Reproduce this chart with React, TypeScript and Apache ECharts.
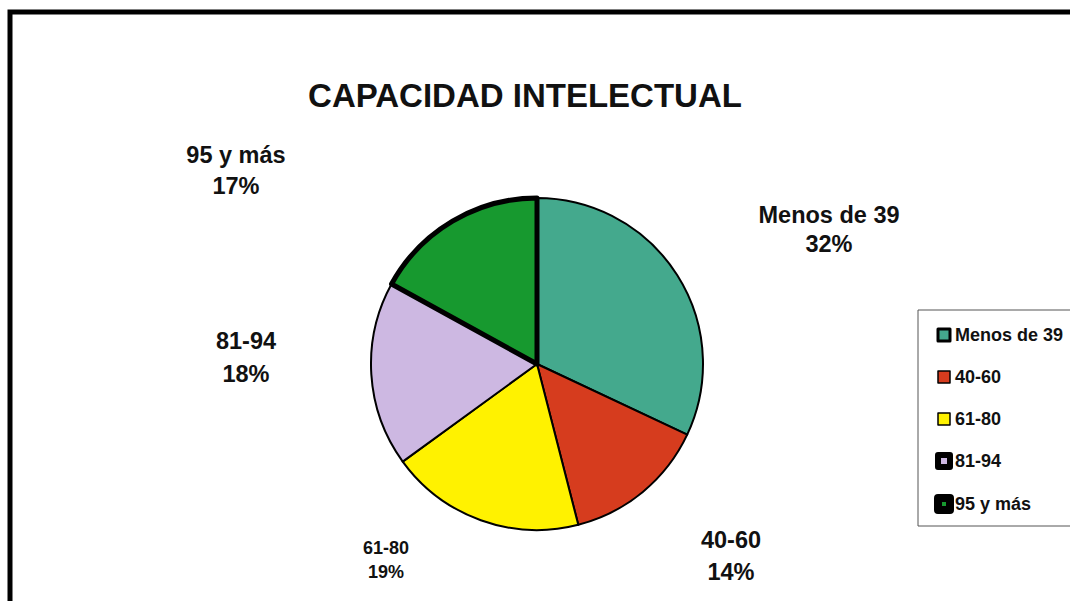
import React, { useEffect, useRef } from "react";
import * as echarts from "echarts";

const categories = ["Menos de 39", "40-60", "61-80", "81-94", "95 y más"];
const values = [32, 14, 19, 18, 17];
const colors = ["#44A98D", "#D63C1E", "#FFF200", "#CDB8E2", "#17992F"];
const borderWidths = [2, 2, 2, 2, 5];
const legendBorders = [3, 1.5, 1.5, 6, 8];
const labelPos = [
  [829, 229],
  [731, 556],
  [386, 560],
  [246, 357],
  [236, 170],
];
const labelSizes = [23.5, 23.5, 18, 23.5, 23.5];
const labelLines = [29, 32, 24, 33, 31];

export default function App() {
  const ref = useRef<HTMLDivElement>(null);
  useEffect(() => {
    const chart = echarts.init(ref.current!, null, { renderer: "svg" });
    const font = "'Liberation Sans', Arial, sans-serif";
    chart.setOption({
      animation: false,
      backgroundColor: "#ffffff",
      title: {
        text: "CAPACIDAD INTELECTUAL",
        left: 520,
        top: 74,
        textAlign: "center",
        textStyle: { fontFamily: font, fontSize: 33, fontWeight: "bold", color: "#111" },
      },
      legend: {
        orient: "vertical",
        left: 918,
        top: 310,
        padding: [16, 60, 12, 16],
        borderColor: "#555",
        borderWidth: 1,
        itemWidth: 12,
        itemHeight: 12,
        itemGap: 24,
        icon: "rect",
        data: categories.map((c, i) => ({
          name: c,
          itemStyle: { borderColor: "#000", borderWidth: legendBorders[i] },
        })),
        textStyle: { fontFamily: font, fontSize: 18, lineHeight: 18, fontWeight: "bold", color: "#111" },
      },
      graphic: [
        {
          type: "rect",
          shape: { x: 10, y: 12, width: 1100, height: 640 },
          style: { fill: "none", stroke: "#000", lineWidth: 5 },
          silent: true,
        },
      ],
      series: [
        {
          type: "pie",
          center: [537, 364],
          radius: 166,
          startAngle: 90,
          clockwise: true,
          data: categories.map((c, i) => ({
            name: c,
            value: values[i],
            itemStyle: { color: colors[i], borderColor: "#000", borderWidth: borderWidths[i] },
            label: { fontSize: labelSizes[i], lineHeight: labelLines[i] },
          })),
          label: {
            show: true,
            position: "outside",
            formatter: "{b}\n{c}%",
            fontFamily: font,
            fontWeight: "bold",
            color: "#111",
            align: "center",
          },
          labelLine: { show: false },
          labelLayout: (p: any) => ({
            x: labelPos[p.dataIndex][0],
            y: labelPos[p.dataIndex][1],
            align: "center",
            verticalAlign: "middle",
          }),
        },
      ],
    });
    return () => chart.dispose();
  }, []);
  return (
    <div
      ref={ref}
      style={{ position: "fixed", left: 0, top: 0, width: 1070, height: 601 }}
    />
  );
}
